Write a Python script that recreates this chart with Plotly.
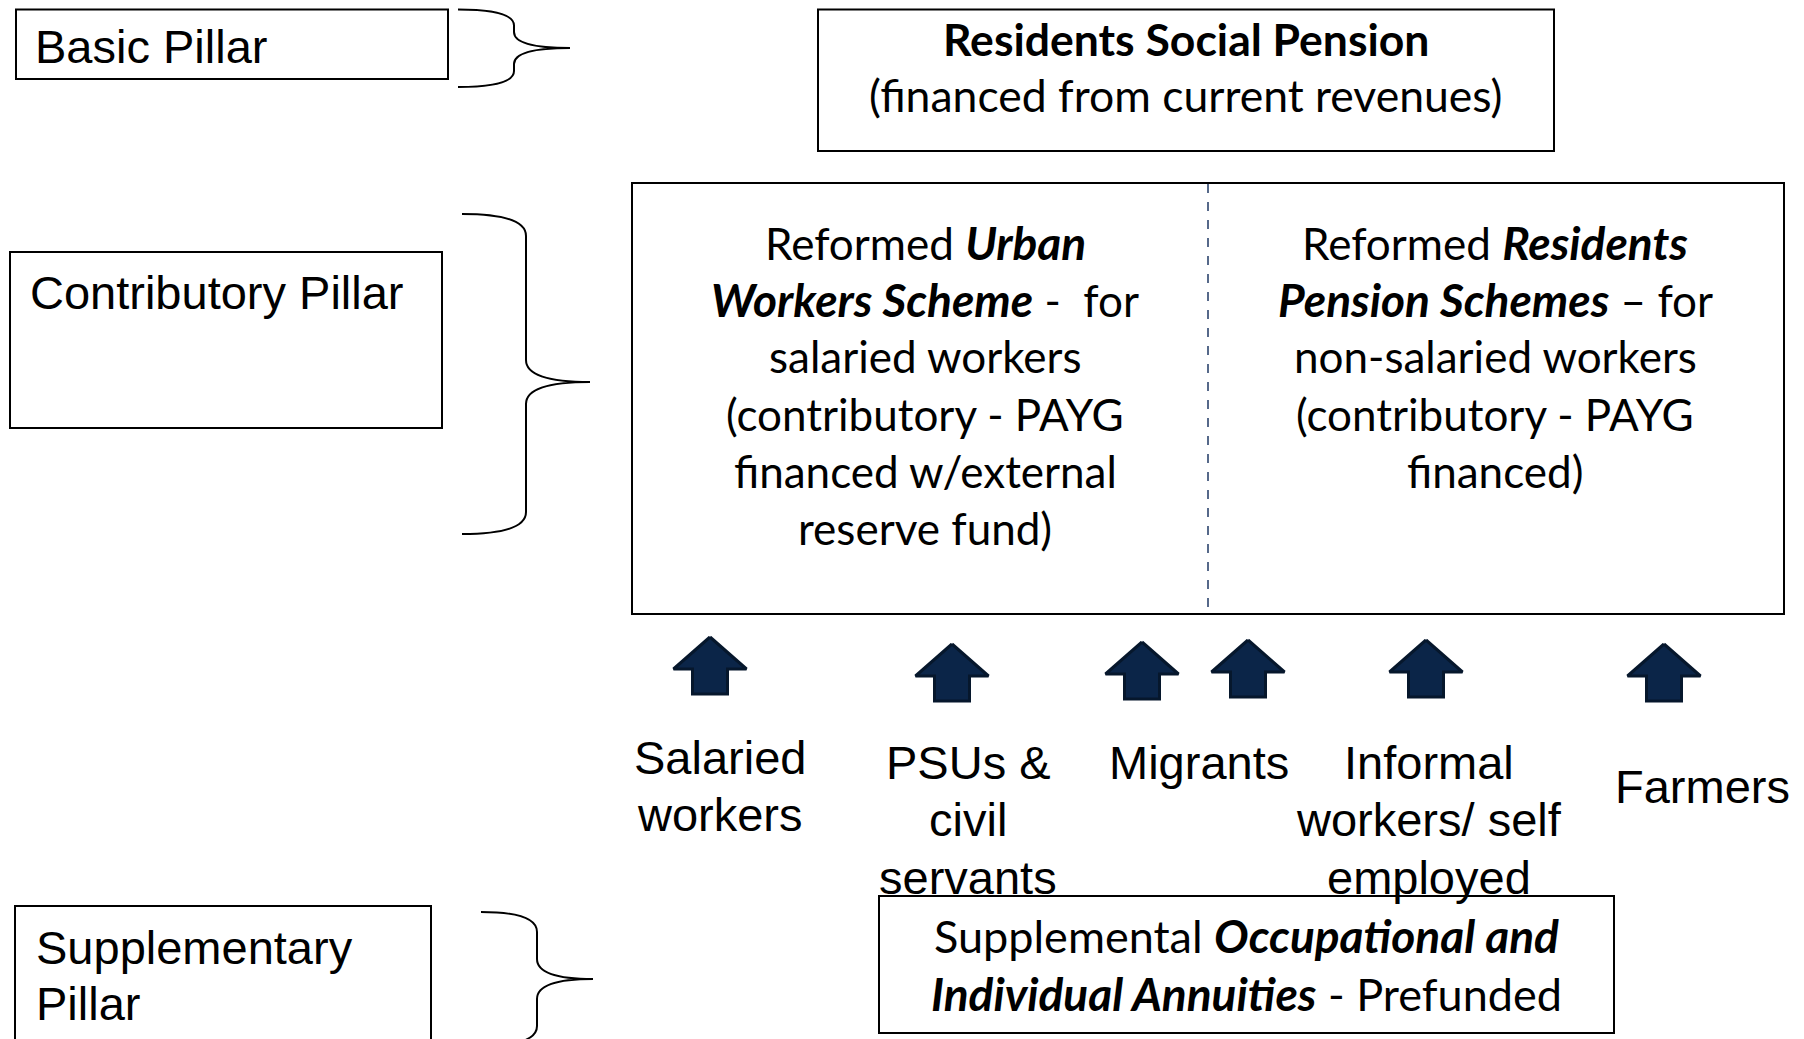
"""
Three-pillar pension system diagram
"""

import plotly.graph_objects as go

W, H = 1804, 1039
PAGE_OFFSET = 8  # default body margin of the html page

# pillar labels on the left
pillar_labels = ["Basic Pillar", "Contributory Pillar", "Supplementary", "Pillar"]

# groups feeding the contributory schemes
group_names = [
    ["Salaried", "workers"],
    ["PSUs &", "civil", "servants"],
    ["Migrants"],
    ["Informal", "workers/ self", "employed"],
    ["Farmers"],
]
group_x = [720, 968, 1199, 1429, 1702]
group_y = [757, 762, 762, 762, 786]

arrow_x = [710, 952, 1142, 1248, 1426, 1664]
arrow_top = [637, 644, 642, 640, 640, 644]


def bi(s):
    # bold italic run, a touch larger since the fallback face runs narrow
    return f"<b><i><span style='font-size:46px'>{s}</span></i></b>"


social_lines = ["<b>Residents Social Pension</b>", "(financed from current revenues)"]
urban_lines = [
    "Reformed " + bi("Urban"),
    bi("Workers Scheme") + " -  for",
    "salaried workers",
    "(contributory - PAYG",
    "financed w/external",
    "reserve fund)",
]
resident_lines = [
    "Reformed " + bi("Residents"),
    bi("Pension Schemes") + " – for",
    "non-salaried workers",
    "(contributory - PAYG",
    "financed)",
]
supp_lines = [
    "Supplemental " + bi("Occupational and"),
    bi("Individual Annuities") + " - Prefunded",
]

ARIAL = "Liberation Sans, Arial, sans-serif"
CALIBRI = "Lato, Carlito, Calibri, sans-serif"
NAVY = "#0b2548"


def box(x0, y0, x1, y1, width=2):
    return dict(
        type="rect", x0=x0, y0=y0, x1=x1, y1=y1, xref="x", yref="y",
        line=dict(color="black", width=width), fillcolor="rgba(0,0,0,0)",
        layer="below",
    )


def brace(xe, xtip, yt, ytip, yb, r):
    xv = (xe + xtip) / 2
    path = (
        f"M {xe},{yt} Q {xv},{yt} {xv},{yt + r} "
        f"L {xv},{ytip - r} Q {xv},{ytip} {xtip},{ytip} "
        f"Q {xv},{ytip} {xv},{ytip + r} "
        f"L {xv},{yb - r} Q {xv},{yb} {xe},{yb}"
    )
    return dict(type="path", path=path, xref="x", yref="y",
                line=dict(color="black", width=2))


fig = go.Figure()

# arrows: head + shaft as one polygon each
ax, ay = [], []
head_w, shaft_w, head_h, total_h = 73, 35, 32, 57
for x, t in zip(arrow_x, arrow_top):
    ax += [x, x + head_w / 2, x + shaft_w / 2, x + shaft_w / 2,
           x - shaft_w / 2, x - shaft_w / 2, x - head_w / 2, x, None]
    ay += [t, t + head_h, t + head_h, t + total_h,
           t + total_h, t + head_h, t + head_h, t, None]

fig.add_trace(
    go.Scatter(
        x=ax, y=ay, mode="lines", fill="toself", fillcolor=NAVY,
        line=dict(color="#06172c", width=3), hoverinfo="skip", showlegend=False,
    )
)

shapes = [
    box(16, 9.5, 448, 79),
    box(10, 252, 442, 428),
    box(15, 906, 431, 1050),
    box(818, 9.5, 1554, 151),
    box(632, 183, 1784, 614),
    box(879, 896, 1614, 1033),
    dict(type="line", x0=1208, x1=1208, y0=184, y1=613, xref="x", yref="y",
         line=dict(color="#1f3864", width=1.5, dash="dash")),
    brace(458, 570, 9.5, 48, 87, 16),
    brace(462, 590, 214, 382, 534, 22),
    brace(481, 593, 912, 979, 1046, 20),
]

annotations = []


def text(t, x, y, size, family, xanchor="center"):
    annotations.append(dict(
        text=t, x=x, y=y, xref="x", yref="y", showarrow=False,
        xanchor=xanchor, yanchor="middle",
        font=dict(size=size, family=family, color="black"),
    ))


# pillar labels
text(pillar_labels[0], 33, 46, 47, ARIAL, "left")
text(pillar_labels[1], 28, 292, 47, ARIAL, "left")
text(pillar_labels[2], 34, 947, 47, ARIAL, "left")
text(pillar_labels[3], 34, 1003, 47, ARIAL, "left")

# scheme boxes
for i, line in enumerate(social_lines):
    text(line, 1186, 38 + i * 56, 44.5, CALIBRI)
for i, line in enumerate(urban_lines):
    text(line, 925, 242 + i * 57.2, 44, CALIBRI)
for i, line in enumerate(resident_lines):
    text(line, 1495, 242 + i * 57.2, 44, CALIBRI)
for i, line in enumerate(supp_lines):
    text(line, 1246, 935 + i * 58, 45, CALIBRI)

# group labels
for names, x, y in zip(group_names, group_x, group_y):
    for i, n in enumerate(names):
        text(n, x, y + i * 57.5, 47, ARIAL)

fig.update_layout(
    width=W,
    height=H,
    margin=dict(l=0, r=0, t=0, b=0),
    plot_bgcolor="white",
    paper_bgcolor="white",
    shapes=shapes,
    annotations=annotations,
    showlegend=False,
    xaxis=dict(range=[PAGE_OFFSET, W + PAGE_OFFSET], visible=False, fixedrange=True),
    yaxis=dict(range=[H + PAGE_OFFSET, PAGE_OFFSET], visible=False, fixedrange=True),
)

fig.write_html("out.html")
